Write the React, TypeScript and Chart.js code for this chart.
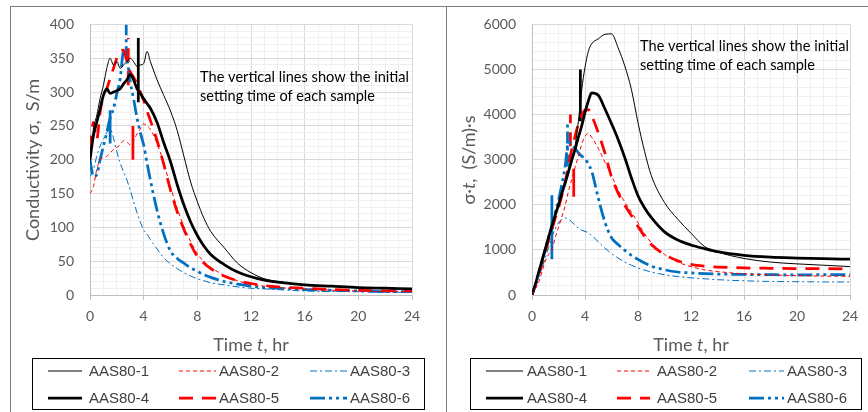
import React, { useEffect, useRef } from "react";
import { Chart, registerables } from "chart.js";

Chart.register(...registerables);

// ---------------- DATA ----------------
const TIME_HR = [0, 0.25, 0.5, 0.75, 1, 1.25, 1.5, 1.75, 2, 2.25, 2.5, 2.75, 3, 3.25, 3.5, 3.75, 4, 4.25, 4.5,
  5, 5.5, 6, 6.5, 7, 7.5, 8, 8.5, 9, 10, 11, 12, 13, 14, 16, 18, 20, 22, 24];

const SERIES_NAMES = ["AAS80-1", "AAS80-2", "AAS80-3", "AAS80-4", "AAS80-5", "AAS80-6"];

// Conductivity sigma, S/m
const COND_AAS80_1 = [195, 245, 265, 290, 310, 335, 350, 340, 345, 335, 340, 345, 350, 345, 338, 340, 342, 360, 345,
  318, 295, 272, 243, 205, 167, 138, 113, 94, 70, 47, 33, 24, 20, 15, 13, 11, 10, 9];
const COND_AAS80_2 = [150, 160, 185, 200, 203, 205, 210, 215, 218, 222, 228, 226, 222, 228, 238, 245, 253, 250, 245,
  224, 195, 160, 128, 101, 79, 61, 49, 41, 29, 21, 16, 13, 11, 9, 7, 6, 5, 5];
const COND_AAS80_3 = [175, 185, 205, 220, 230, 240, 246, 232, 212, 195, 182, 170, 155, 138, 122, 108, 96, 90, 82,
  68, 55, 46, 39, 33, 28, 24, 21, 18, 15, 12, 10, 9, 8, 6, 5, 5, 4, 4];
const COND_AAS80_4 = [200, 235, 255, 275, 295, 305, 298, 300, 302, 305, 312, 318, 326, 318, 305, 298, 290, 283, 276,
  255, 225, 197, 163, 133, 108, 88, 72, 60, 45, 34, 27, 22, 19, 15, 13, 11, 10, 9];
const COND_AAS80_5 = [215, 255, 230, 270, 295, 305, 320, 335, 350, 360, 362, 345, 330, 322, 312, 300, 288, 272, 258,
  228, 193, 155, 123, 97, 75, 57, 47, 39, 28, 21, 17, 14, 12, 10, 8, 7, 6, 6];
const COND_AAS80_6 = [200, 175, 178, 200, 220, 240, 262, 275, 298, 320, 360, 350, 315, 290, 262, 240, 222, 195, 170,
  125, 90, 65, 54, 47, 40, 35, 30, 26, 20, 16, 13, 11, 10, 8, 7, 6, 5, 5];

// sigma * t, (S/m)·s
const SIGT_AAS80_1 = [0, 240, 510, 780, 1040, 1300, 1550, 1800, 2040, 2290, 2530, 2780, 3040, 3300, 3850, 4550, 5050, 5400, 5570,
  5680, 5780, 5790, 5480, 5080, 4560, 3820, 3180, 2650, 2050, 1680, 1370, 1080, 955, 810, 730, 690, 660, 630];
const SIGT_AAS80_2 = [0, 130, 277, 510, 750, 900, 1000, 1270, 1500, 1730, 1980, 2300, 2560, 2830, 3080, 3340, 3520, 3580, 3500,
  3250, 2950, 2650, 2330, 2060, 1840, 1600, 1360, 1160, 900, 730, 630, 560, 520, 470, 445, 430, 420, 415];
const SIGT_AAS80_3 = [0, 180, 380, 600, 820, 1050, 1280, 1460, 1600, 1680, 1705, 1680, 1620, 1550, 1480, 1440, 1410, 1380, 1320,
  1180, 1040, 920, 820, 730, 660, 600, 550, 510, 450, 410, 380, 360, 340, 315, 300, 295, 290, 288];
const SIGT_AAS80_4 = [0, 230, 500, 760, 1020, 1280, 1520, 1770, 2000, 2250, 2480, 2730, 2990, 3230, 3500, 3750, 4050, 4300, 4480,
  4430, 4130, 3800, 3450, 3050, 2600, 2200, 1930, 1720, 1400, 1220, 1110, 1030, 960, 880, 840, 820, 805, 795];
const SIGT_AAS80_5 = [0, 210, 430, 690, 950, 1210, 1450, 1700, 1930, 2200, 2500, 2870, 3230, 3520, 3800, 3980, 4100, 4110, 3980,
  3600, 3150, 2620, 2260, 1990, 1760, 1520, 1300, 1120, 900, 760, 680, 640, 620, 600, 592, 587, 583, 580];
const SIGT_AAS80_6 = [0, 220, 470, 740, 1000, 1280, 1550, 1820, 2100, 2450, 2850, 3400, 3300, 3250, 3150, 3080, 3030, 2900, 2750,
  2150, 1620, 1270, 1120, 990, 880, 790, 710, 640, 560, 510, 490, 475, 465, 455, 450, 448, 450, 452];

// initial setting time markers (series index, time, low, high)
const SET_SERIES = [0, 1, 2, 4, 5];
const SET_TIME_COND = [3.6, 3.2, 1.5, 2.85, 2.7];
const SET_COND_LOW = [285, 200, 224, 310, 350];
const SET_COND_HIGH = [380, 250, 273, 380, 400];
const SET_TIME_SIGT = [3.65, 3.15, 1.5, 2.9, 2.68];
const SET_SIGT_LOW = [3850, 2180, 790, 3300, 2850];
const SET_SIGT_HIGH = [5000, 2800, 2210, 4000, 3850];

const COND_SERIES = [COND_AAS80_1, COND_AAS80_2, COND_AAS80_3, COND_AAS80_4, COND_AAS80_5, COND_AAS80_6];
const SIGT_SERIES = [SIGT_AAS80_1, SIGT_AAS80_2, SIGT_AAS80_3, SIGT_AAS80_4, SIGT_AAS80_5, SIGT_AAS80_6];

const NOTE_LINES = ["The vertical lines show the initial", "setting time of each sample"];

// ---------------- STYLES ----------------
const RED = "#FF0000";
const BLUE = "#0070C0";
const STYLES = [
  { color: "#000000", width: 1, dash: [] as number[] },
  { color: RED, width: 1, dash: [4, 3] },
  { color: BLUE, width: 1, dash: [7, 3, 2, 3] },
  { color: "#000000", width: 2.75, dash: [] as number[] },
  { color: RED, width: 2.75, dash: [14, 9] },
  { color: BLUE, width: 2.75, dash: [15, 4, 3, 4, 3, 4] },
];
const SET_DASH = [[], [], [], [14, 9], [12, 4, 3, 4]];

const FONT = "Lato, 'Noto Sans', 'DejaVu Sans', sans-serif";

type Part = { text: string; italic?: boolean };

function drawRich(ctx: CanvasRenderingContext2D, parts: Part[], size: number, cx: number, cy: number, rotate: boolean) {
  ctx.save();
  ctx.translate(cx, cy);
  if (rotate) ctx.rotate(-Math.PI / 2);
  ctx.textBaseline = "middle";
  ctx.textAlign = "left";
  ctx.fillStyle = "#595959";
  let total = 0;
  for (const p of parts) {
    ctx.font = `${p.italic ? "italic " : ""}${size}px ${FONT}`;
    total += ctx.measureText(p.text).width;
  }
  let x = -total / 2;
  for (const p of parts) {
    ctx.font = `${p.italic ? "italic " : ""}${size}px ${FONT}`;
    ctx.fillText(p.text, x, 0);
    x += ctx.measureText(p.text).width;
  }
  ctx.restore();
}

type PanelCfg = {
  kind: "cond" | "sigt";
  yMax: number;
  yStep: number;
  yMajor: number;
  axisLeft: number;
  padRight: number;
  frameLeft: number;
  topLineStart: number;
  yTitle: Part[];
  yTitleX: number;
  xTitleX: number;
  noteX: number;
  noteY: number[];
  legendBox: [number, number, number, number];
  lineX0: number[];
  lineX1: number[];
  textX: number[];
};

const LEFT_CFG: PanelCfg = {
  kind: "cond",
  yMax: 400,
  yStep: 10,
  yMajor: 50,
  axisLeft: 90,
  padRight: 22,
  frameLeft: 10,
  topLineStart: 10,
  yTitle: [{ text: "Conductivity σ,  S/m" }],
  yTitleX: 33,
  xTitleX: 251,
  noteX: 200,
  noteY: [77, 96],
  legendBox: [32, 358, 392, 51],
  lineX0: [48, 179, 310],
  lineX1: [82, 216, 347],
  textX: [89, 219, 350],
};

const RIGHT_CFG: PanelCfg = {
  kind: "sigt",
  yMax: 6000,
  yStep: 200,
  yMajor: 1000,
  axisLeft: 98,
  padRight: 18,
  frameLeft: 12,
  topLineStart: 0,
  yTitle: [{ text: "σ·" }, { text: "t", italic: true }, { text: ",  (S/m)·s" }],
  yTitleX: 35,
  xTitleX: 257,
  noteX: 206,
  noteY: [46, 65],
  legendBox: [36, 358, 391, 51],
  lineX0: [52, 183, 315],
  lineX1: [89, 216, 350],
  textX: [93, 223, 353],
};

function Panel({ cfg }: { cfg: PanelCfg }) {
  const ref = useRef<HTMLCanvasElement | null>(null);

  useEffect(() => {
    if (!ref.current) return;
    const series = cfg.kind === "cond" ? COND_SERIES : SIGT_SERIES;
    const setT = cfg.kind === "cond" ? SET_TIME_COND : SET_TIME_SIGT;
    const setLo = cfg.kind === "cond" ? SET_COND_LOW : SET_SIGT_LOW;
    const setHi = cfg.kind === "cond" ? SET_COND_HIGH : SET_SIGT_HIGH;

    const datasets: any[] = series.map((vals, i) => ({
      label: SERIES_NAMES[i],
      data: TIME_HR.map((t, k) => ({ x: t, y: vals[k] })),
      borderColor: STYLES[i].color,
      borderWidth: STYLES[i].width,
      borderDash: STYLES[i].dash,
      pointRadius: 0,
      fill: false,
      cubicInterpolationMode: "monotone",
    }));
    SET_SERIES.forEach((si, j) => {
      datasets.push({
        label: "set-" + SERIES_NAMES[si],
        data: [{ x: setT[j], y: setLo[j] }, { x: setT[j], y: setHi[j] }],
        borderColor: STYLES[si].color,
        borderWidth: 2.75,
        borderDash: SET_DASH[j],
        pointRadius: 0,
        fill: false,
        tension: 0,
      });
    });

    const overlay = {
      id: "overlay",
      afterDraw(chart: any) {
        const ctx: CanvasRenderingContext2D = chart.ctx;
        ctx.save();
        // frame
        ctx.strokeStyle = "#7f7f7f";
        ctx.lineWidth = 1;
        ctx.setLineDash([]);
        ctx.beginPath();
        ctx.moveTo(cfg.frameLeft + 0.5, 412);
        ctx.lineTo(cfg.frameLeft + 0.5, 6.5);
        ctx.moveTo(cfg.topLineStart, 6.5);
        ctx.lineTo(434, 6.5);
        ctx.stroke();

        // axis titles
        drawRich(ctx, cfg.yTitle, 18, cfg.yTitleX, 160, true);
        drawRich(ctx, [{ text: "Time " }, { text: "t", italic: true }, { text: ", hr" }], 18, cfg.xTitleX, 345, false);

        // note
        ctx.fillStyle = "#000000";
        ctx.font = `16px ${FONT}`;
        ctx.textBaseline = "middle";
        ctx.textAlign = "left";
        NOTE_LINES.forEach((line, i) => {
          const w = ctx.measureText(line).width;
          const maxW = i === 0 ? 209 : 209 * (w / ctx.measureText(NOTE_LINES[0]).width);
          ctx.fillText(line, cfg.noteX, cfg.noteY[i], maxW);
        });

        // legend
        const [bx, by, bw, bh] = cfg.legendBox;
        ctx.strokeStyle = "#000000";
        ctx.lineWidth = 1;
        ctx.strokeRect(bx + 0.5, by + 0.5, bw, bh);
        const rowY = [371, 398];
        for (let i = 0; i < 6; i++) {
          const ds = chart.data.datasets[i];
          const col = i % 3;
          const row = Math.floor(i / 3);
          const y = rowY[row];
          ctx.strokeStyle = ds.borderColor;
          ctx.lineWidth = ds.borderWidth;
          ctx.setLineDash(ds.borderDash || []);
          ctx.beginPath();
          ctx.moveTo(cfg.lineX0[col], y);
          ctx.lineTo(cfg.lineX1[col], y);
          ctx.stroke();
          ctx.setLineDash([]);
          ctx.fillStyle = "#404040";
          ctx.font = `15px 'Liberation Sans', Arial, sans-serif`;
          ctx.textBaseline = "middle";
          ctx.fillText(ds.label, cfg.textX[col], y + 1);
        }
        ctx.restore();
      },
    };

    const chart = new Chart(ref.current, {
      type: "line",
      data: { datasets },
      plugins: [overlay],
      options: {
        responsive: false,
        animation: false,
        events: [],
        layout: { padding: { left: 0, right: cfg.padRight, top: 24, bottom: 0 } },
        plugins: { legend: { display: false }, tooltip: { enabled: false } },
        scales: {
          x: {
            type: "linear",
            min: 0,
            max: 24,
            afterFit: (s: any) => {
              s.height = 117;
            },
            ticks: {
              stepSize: 1,
              autoSkip: false,
              maxRotation: 0,
              padding: 8,
              color: "#595959",
              font: { family: FONT, size: 14 },
              callback: (v: any) => (Number(v) % 4 === 0 ? String(v) : ""),
            },
            grid: {
              color: (c: any) => (c.tick && c.tick.value % 4 === 0 ? "#d9d9d9" : "#f0f0f0"),
              tickColor: (c: any) => (c.tick && c.tick.value % 4 === 0 ? "#bfbfbf" : "rgba(0,0,0,0)"),
              tickLength: 5,
            },
            border: { color: "#bfbfbf" },
          },
          y: {
            min: 0,
            max: cfg.yMax,
            afterFit: (s: any) => {
              s.width = cfg.axisLeft;
            },
            ticks: {
              stepSize: cfg.yStep,
              autoSkip: false,
              padding: 16,
              color: "#595959",
              font: { family: FONT, size: 14 },
              callback: (v: any) => (Number(v) % cfg.yMajor === 0 ? String(v) : ""),
            },
            grid: {
              color: (c: any) => (c.tick && c.tick.value % cfg.yMajor === 0 ? "#d9d9d9" : "#f0f0f0"),
              drawTicks: false,
            },
            border: { color: "#bfbfbf" },
          },
        },
      } as any,
    });
    return () => chart.destroy();
  }, [cfg]);

  return <canvas ref={ref} width={434} height={412} style={{ display: "block", width: 434, height: 412 }} />;
}

export default function App() {
  return (
    <div style={{ position: "fixed", left: 0, top: 0, width: 868, height: 412, display: "flex", background: "#ffffff" }}>
      <Panel cfg={LEFT_CFG} />
      <Panel cfg={RIGHT_CFG} />
    </div>
  );
}
